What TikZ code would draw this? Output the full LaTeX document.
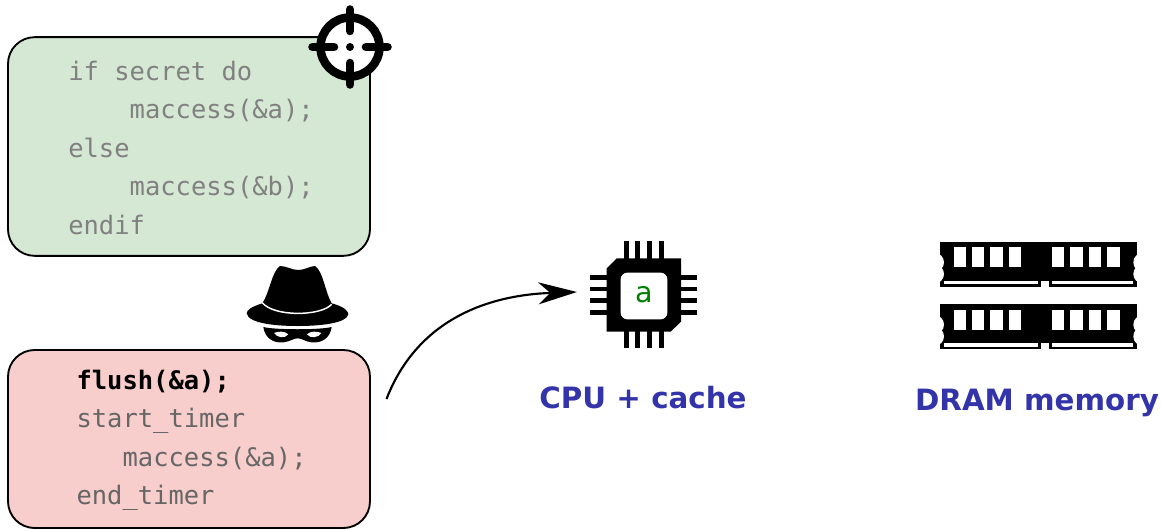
\documentclass[tikz,border=0pt]{standalone}
\usepackage{fontspec}
\setmainfont{DejaVu Sans}
\newfontfamily\codefont{DejaVu Sans Mono}
\usetikzlibrary{arrows.meta,positioning}
\definecolor{okgreen}{HTML}{D5E8D4}
\definecolor{badred}{HTML}{F8CECC}
\definecolor{capblue}{HTML}{3333AA}
\definecolor{cellgreen}{HTML}{008000}
\begin{document}
\begin{tikzpicture}[
  x=0.75pt,
  y=-0.75pt,
  codebox/.style={rectangle, draw=black, line width=1.4pt, rounded corners=20pt, minimum width=271.5pt, inner sep=0pt},
  codetext/.style={anchor=west, align=left, inner sep=0pt, yshift=-1pt, font=\codefont\fontsize{19.1}{28.9}\selectfont},
  partlabel/.style={anchor=base, inner sep=0pt, text=capblue, font=\bfseries\fontsize{22}{26}\selectfont},
  icon/.style={x=0.25pt, y=-0.25pt}
]
  \useasboundingbox (0,0) rectangle (1161,529);

  \node[codebox, fill=okgreen, minimum height=164pt] (victim) at (189,146.5) {};
  \node[codebox, fill=badred, minimum height=133.5pt] (attacker) at (189,439) {};
  \node[codetext, text=black!50, right=45.7pt of victim.west] (victimcode) {if secret do\\
    \hspace*{46.1pt}maccess(\&a);\\
    else\\
    \hspace*{46.1pt}maccess(\&b);\\
    endif};
  \node[codetext, text=black!60, right=51.9pt of attacker.west] (attackercode) {\textcolor{black}{\textbf{flush(\&a);}}\\
    start\_timer\\
    \hspace*{34.6pt}maccess(\&a);\\
    end\_timer};

  % target
  \begin{scope}[shift={(350,47)}, line width=6.4pt, line cap=round]
    \draw[fill=white] (0,0) circle (29.5);
    \foreach \a in {0,90,180,270}
      \draw[rotate=\a] (16,0) -- (37.5,0);
    \fill (0,0) circle (4);
  \end{scope}

  % spy
  \begin{scope}[shift={(230,255)}, icon]
    \fill (97,145) .. controls (120,110) and (125,50) .. (150,33) .. controls (170,33) and (185,45) .. (205,45)
      .. controls (225,45) and (240,33) .. (255,33) .. controls (280,50) and (285,110) .. (305,145)
      .. controls (345,155) and (355,170) .. (355,178) .. controls (350,205) and (270,213) .. (203,213)
      .. controls (135,213) and (55,205) .. (50,175) .. controls (50,165) and (65,155) .. (97,145) -- cycle;
    \draw[white, line width=1.1pt] (97,143) .. controls (130,185) and (270,185) .. (305,148);
    \fill (100,216) .. controls (105,250) and (130,265) .. (160,262) .. controls (180,260) and (190,250) .. (203,250)
      .. controls (216,250) and (226,260) .. (245,262) .. controls (275,265) and (300,250) .. (305,216)
      .. controls (270,225) and (135,225) .. (100,216) -- cycle;
    \fill[white] (132,234) .. controls (145,228) and (165,228) .. (175,238) .. controls (165,252) and (140,248) .. (132,234) -- cycle;
    \fill[white] (274,234) .. controls (261,228) and (241,228) .. (231,238) .. controls (241,252) and (266,248) .. (274,234) -- cycle;
  \end{scope}

  % chip
  \begin{scope}[shift={(580,230)}, icon]
    \fill (80,115) -- (110,85) -- (303,85) -- (303,275) -- (272,305) -- (80,305) -- cycle;
    \foreach \p in {132,166,201,237}
      \fill (\p,33) rectangle ++(14,322);
    \foreach \p in {135,170,205,240}
      \fill (30,\p) rectangle ++(322,14);
    \fill[white, rounded corners=5pt] (122,128) rectangle (262,268);
    \node[inner sep=0pt, text=cellgreen, font=\fontsize{21.5}{25}\selectfont] (cell) at (192,193) {a};
  \end{scope}

  % memory
  \foreach \m in {0,187} {
    \begin{scope}[shift={(930,230)}, icon, yshift=-0.25pt*\m]
      \fill (30,35) -- (622,35) -- (622,170) -- (30,170) -- cycle;
      \begin{scope}
        \clip (30,35) rectangle (622,170);
        \foreach \s in {13.5,638.5}
          \foreach \p in {97,132}
            \fill[white] (\s,\p) circle (28.5);
      \end{scope}
      \foreach \p in {71,126,181,237,366,421,477,532}
        \fill[white] (\p,52) rectangle ++(37,60);
      \fill[white] (42,152) rectangle (325,163);
      \fill[white] (367,152) rectangle (610,163);
      \fill[white] (332,152) rectangle (358,170);
    \end{scope}
  }

  \node[partlabel] (cpulabel) at (643,408) {CPU + cache};
  \node[partlabel] (dramlabel) at (1037,410) {DRAM memory};

  \coordinate (attackerout) at (386.5,399);
  \coordinate (chipin) at (577,292);
  \draw[-{Stealth[length=29pt, width=16.5pt, inset=9pt]}, line width=1.6pt] (attackerout) .. controls (418,318) and (490,295) .. (chipin);
\end{tikzpicture}
\end{document}
